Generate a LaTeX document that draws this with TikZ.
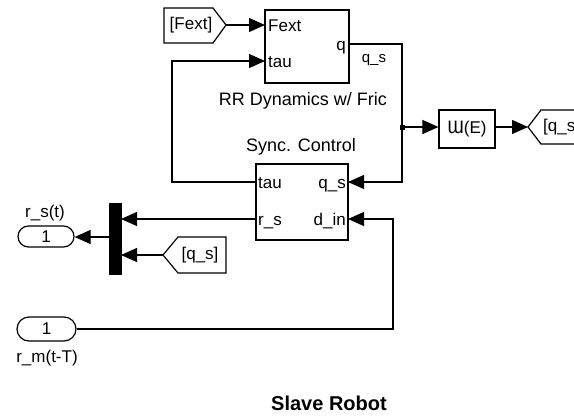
\documentclass[tikz,border=0pt]{standalone}
\usepackage{fontspec}
\setmainfont{Liberation Sans}
\newfontfamily\symfont{DejaVu Sans}
\usetikzlibrary{arrows.meta}
\begin{document}
\begin{tikzpicture}[x=1pt,y=-1pt,
  wire/.style={line width=1.2pt},
  arr/.style={wire,-{Triangle[length=16pt,width=14pt]}},
  blk/.style={draw,line width=1.2pt,inner sep=0pt},
  portlbl/.style={font=\fontsize{17}{19}\selectfont,inner sep=0pt},
  namelbl/.style={font=\fontsize{18}{20}\selectfont,inner sep=0pt,anchor=base},
  iop/.style={draw,line width=1.2pt,font=\fontsize{17}{19}\selectfont,inner sep=0pt}]
\clip (0,0) rectangle (574,418);
\fill[white] (0,0) rectangle (574,418);

% blocks
\node[blk,minimum width=84pt,minimum height=73pt] (rr) at (307,46.5) {};
\node[blk,minimum width=92pt,minimum height=76pt] (sync) at (302,202) {};
\node[blk,minimum width=56pt,minimum height=38pt,font=\fontsize{17}{19}\selectfont] (we) at (467,129) {{\symfont Ɯ}(E)};
\node[draw,fill=black,minimum width=12pt,minimum height=71pt,inner sep=0pt] (mux) at (115,238.5) {};

% port labels
\node[portlbl,anchor=base west] (lFext) at (268,31) {Fext};
\node[portlbl,anchor=base west] (ltau) at (268,67) {tau};
\node[portlbl,anchor=base east] (lq) at (346,50) {q};
\node[portlbl,anchor=base west] (stau) at (258,188) {tau};
\node[portlbl,anchor=base west] (srs) at (258,225) {r\_s};
\node[portlbl,anchor=base east] (sqs) at (346,188) {q\_s};
\node[portlbl,anchor=base east] (sdin) at (346,225) {d\_in};

% block names
\node[namelbl] (rrname) at (303,105) {RR Dynamics w/ Fric};
\node[namelbl] (syncname) at (301,151) {Sync. Control};
\node[font=\fontsize{20}{22}\selectfont\bfseries,anchor=base,inner sep=0pt] (title) at (329,410) {Slave Robot};

% from/goto tags
\draw[wire] (164,8) -- (213,8) -- (226,25) -- (213,43) -- (164,43) -- cycle;
\coordinate (fextTip) at (226,25);
\node[portlbl] (fexttxt) at (191,25) {[Fext]};

\draw[wire] (163,255) -- (178,237) -- (226,237) -- (226,273) -- (178,273) -- cycle;
\coordinate (qsTip) at (163,255);
\node[portlbl] (qstxt) at (200,255) {[q\_s]};

\draw[wire] (528,127) -- (541,110) -- (600,110) -- (600,144) -- (541,144) -- cycle;
\coordinate (gotoTip) at (528,127);
\node[portlbl,anchor=west] (gototxt) at (543,127) {[q\_s]};

% in/out ports
\node[iop,minimum width=56pt,minimum height=21pt,rounded corners=10.5pt] (outp) at (46,236.5) {1};
\node[portlbl,anchor=base] (outlbl) at (45,217) {r\_s(t)};
\node[iop,minimum width=59pt,minimum height=24pt,rounded corners=12pt] (inp) at (46.5,329) {1};
\node[portlbl,anchor=base] (inlbl) at (47,362) {r\_m(t-T)};

% port coordinates
\coordinate (rrF) at (265,25);
\coordinate (rrT) at (265,61);
\coordinate (rrQ) at (349,44);
\coordinate (sT) at (256,182);
\coordinate (sR) at (256,219);
\coordinate (sQ) at (348,182);
\coordinate (sD) at (348,219);
\coordinate (br) at (402,127);
\coordinate (m1) at (121,219);
\coordinate (m2) at (121,255);
\coordinate (mo) at (109,237);

% connectors
\draw[arr] (fextTip) -- (rrF);
\draw[arr] (rrQ) -| (402,182) -- (sQ);
\draw[arr] (br) -- (we.west |- br);
\fill (br) ++(-2.5,-2.5) rectangle ++(5,5);
\draw[arr] (we.east |- br) -- (gotoTip);
\draw[arr] (sT) -| (172,61) -- (rrT);
\draw[arr] (sR) -- (m1);
\draw[arr] (qsTip) -- (m2);
\draw[arr] (mo) -- (outp.east |- mo);
\draw[arr] (inp.east) -| (393,219) -- (sD);
\node[font=\fontsize{15}{17}\selectfont,inner sep=0pt] (qslbl) at (374,60) {q\_s};
\end{tikzpicture}
\end{document}
